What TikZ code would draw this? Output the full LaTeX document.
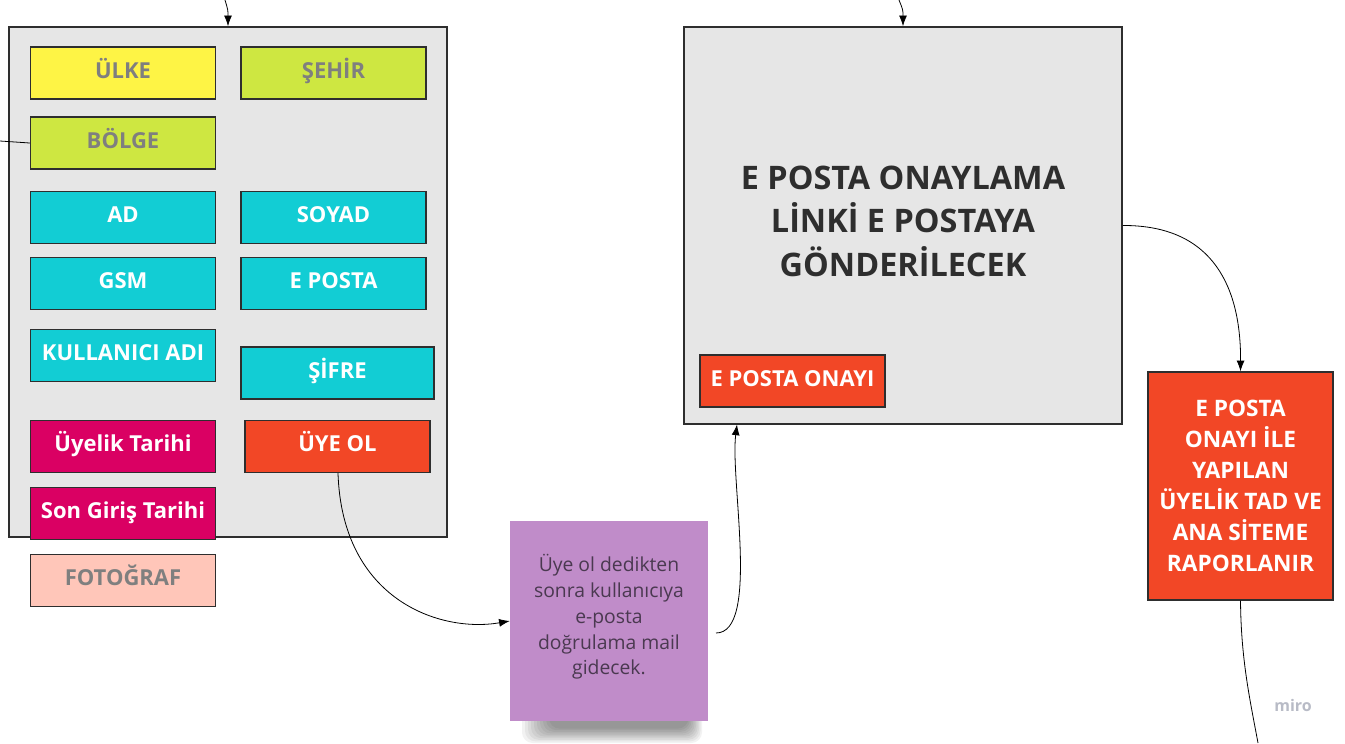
\documentclass[tikz,border=0pt]{standalone}
\usepackage{fontspec}
\setmainfont{Open Sans}
\usetikzlibrary{arrows.meta}
\definecolor{panelgray}{HTML}{E6E6E6}
\definecolor{edgedark}{HTML}{2E2E2E}
\definecolor{fldyellow}{HTML}{FEF445}
\definecolor{fldlime}{HTML}{CEE741}
\definecolor{fldcyan}{HTML}{12CDD4}
\definecolor{fldmagenta}{HTML}{DA0063}
\definecolor{fldred}{HTML}{F24726}
\definecolor{fldpink}{HTML}{FFC6B9}
\definecolor{notepurple}{HTML}{C08CC9}
\definecolor{notetext}{HTML}{4A3950}
\definecolor{labelgray}{HTML}{7F7F7F}
\definecolor{mirogray}{HTML}{B8BBC6}
\tikzset{
  field/.style={draw=edgedark, line width=1.1pt, minimum width=138.75pt,
    minimum height=39pt, inner sep=2pt, text=white, text height=12pt, text depth=4pt,
    font=\fontsize{16.5}{19}\selectfont\bfseries},
  panel/.style={draw=edgedark, line width=1.2pt, fill=panelgray, inner sep=0pt},
  link/.style={-{Latex[length=8pt,width=6pt]}, line width=0.6pt}
}
\begin{document}
\begin{tikzpicture}[x=0.75pt, y=-0.75pt]
  \useasboundingbox (0,0) rectangle (1345,743);
  % form panel
  \node[panel, minimum width=328.5pt, minimum height=382.5pt] (form) at (228,282) {};
  \node[field, fill=fldyellow, text=labelgray] (ulke) at (123,73) {ÜLKE};
  \node[field, fill=fldlime, text=labelgray] (sehir) at (333.5,73) {ŞEHİR};
  \node[field, fill=fldlime, text=labelgray] (bolge) at (123,143) {BÖLGE};
  \node[field, fill=fldcyan] (ad) at (123,217.5) {AD};
  \node[field, fill=fldcyan] (soyad) at (333.5,217.5) {SOYAD};
  \node[field, fill=fldcyan] (gsm) at (123,283.5) {GSM};
  \node[field, fill=fldcyan] (eposta) at (333.5,283.5) {E POSTA};
  \node[field, fill=fldcyan] (kadi) at (123,355.5) {KULLANICI ADI};
  \node[field, fill=fldcyan, minimum width=144.75pt] (sifre) at (337.5,373) {ŞİFRE};
  \node[field, fill=fldmagenta] (uyetarih) at (123,446.5) {Üyelik Tarihi};
  \node[field, fill=fldred] (uyeol) at (337.5,446.5) {ÜYE OL};
  \node[field, fill=fldmagenta] (giris) at (123,513.5) {Son Giriş Tarihi};
  \node[field, fill=fldpink, text=labelgray] (foto) at (123,580.5) {FOTOĞRAF};

  % sticky note with its shadow
  \foreach \k in {0,...,9}
    \fill[black, opacity=0.05, rounded corners=8pt]
      (522+\k*3,705) rectangle (702-\k*1.5,743-\k*1.6);
  \node[fill=notepurple, minimum width=148.5pt, minimum height=150pt,
    text=notetext, align=center, font=\fontsize{14.5}{19.3}\selectfont]
    (note) at (609,621) {Üye ol dedikten\\sonra kullanıcıya\\e-posta\\doğrulama mail\\gidecek.\\[-10pt]};

  % mail panel
  \node[panel, minimum width=328.5pt, minimum height=297.75pt] (mail) at (903,225.5) {};
  \node[text=edgedark, align=center, font=\fontsize{24.3}{32.6}\selectfont\bfseries]
    (mailtext) at (903,221) {E POSTA ONAYLAMA\\LİNKİ E POSTAYA\\GÖNDERİLECEK};
  \node[field, fill=fldred] (onay) at (792.5,381) {E POSTA ONAYI};

  % report box
  \node[field, fill=fldred, minimum height=171pt, align=center, text height=, text depth=,
    font=\fontsize{17}{23.25}\selectfont\bfseries] (rapor) at (1240.5,486)
    {E POSTA\\ONAYI İLE\\YAPILAN\\ÜYELİK TAD VE\\ANA SİTEME\\RAPORLANIR};

  \node[text=mirogray, font=\fontsize{12}{14}\selectfont\bfseries] (miro) at (1293,705) {miro};

  % free ends
  \coordinate (formin) at (225,0);
  \coordinate (mailin) at (899,0);
  \coordinate (bolgein) at (0,141);
  \coordinate (raporout) at (1258,743);

  % connectors
  \draw[link] (formin) .. controls (228,10) .. (form.north);
  \draw[link] (mailin) .. controls (903,10) .. (mail.north);
  \draw[line width=0.6pt] (bolgein) -- (bolge.west);
  \draw[link] (338,473) .. controls (342,600) and (440,633) .. (note.west);
  \draw[link] (716,633) .. controls (760,633) and (730,480) .. (737,424.5);
  \draw[link] (mail.east) .. controls (1215,225) and (1241,290) .. (rapor.north);
  \draw[line width=0.6pt] (rapor.south) .. controls (1241,660) and (1250,700) .. (raporout);
\end{tikzpicture}
\end{document}
